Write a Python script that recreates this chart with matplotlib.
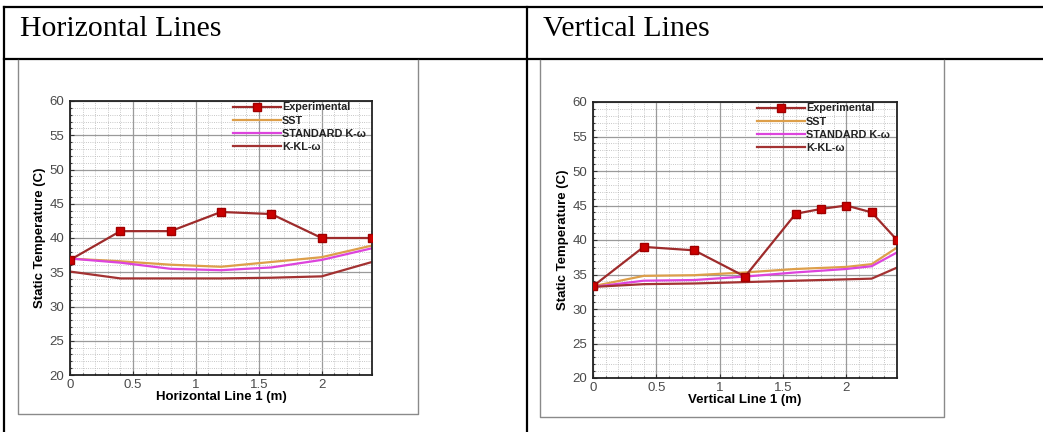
import matplotlib
matplotlib.use('Agg')
import matplotlib.pyplot as plt
from matplotlib.lines import Line2D
from matplotlib.ticker import MultipleLocator

W, H = 1043, 432

# Horizontal line 1 profiles
h_exp_x = [0, 0.4, 0.8, 1.2, 1.6, 2.0, 2.4]
h_exp_y = [36.8, 41.0, 41.0, 43.8, 43.5, 40.0, 40.0]
h_sim_x = [0, 0.4, 0.8, 1.2, 1.6, 2.0, 2.4]
h_sst = [37.0, 36.6, 36.1, 35.8, 36.5, 37.2, 38.9]
h_std = [37.0, 36.4, 35.5, 35.3, 35.7, 36.8, 38.5]
h_kkl = [35.1, 34.1, 34.1, 34.1, 34.2, 34.4, 36.5]

# Vertical line 1 profiles
v_exp_x = [0, 0.4, 0.8, 1.2, 1.6, 1.8, 2.0, 2.2, 2.4]
v_exp_y = [33.3, 39.0, 38.5, 34.7, 43.8, 44.5, 45.0, 44.0, 40.0]
v_sim_x = [0, 0.4, 0.8, 1.2, 1.6, 2.0, 2.2, 2.4]
v_sst = [33.3, 34.8, 34.9, 35.3, 35.8, 36.1, 36.5, 38.9]
v_std = [33.2, 34.1, 34.2, 34.7, 35.3, 35.8, 36.2, 38.2]
v_kkl = [33.2, 33.6, 33.7, 33.9, 34.1, 34.3, 34.4, 36.0]

labels = ['Experimental', 'SST', 'STANDARD K-ω', 'K-KL-ω']
headers = ['Horizontal Lines', 'Vertical Lines']
xlabels = ['Horizontal Line 1 (m)', 'Vertical Line 1 (m)']

EXP_LINE = '#9e2b2b'
EXP_MARK = '#cc0000'
SST_COLOR = '#dd9f4a'
STD_COLOR = '#dd44dd'
KKL_COLOR = '#a33232'
SANS = ['Liberation Sans', 'DejaVu Sans']


def fx(px):
    return px / W


def fy(py):
    return 1 - py / H


def tick_fmt(v, pos):
    return '%g' % v


fig = plt.figure(figsize=(W / 100, H / 100), dpi=100)
fig.patch.set_facecolor('white')

# table rules
for xs, ys in [((4, W), (7, 7)), ((4, W), (59, 59)), ((4, 4), (7, H)), ((527, 527), (7, H))]:
    fig.add_artist(Line2D([fx(x) for x in xs], [fy(y) for y in ys], color='black', lw=1.6))

serif = ['Liberation Serif', 'DejaVu Serif']
fig.text(fx(20), fy(36), headers[0], family=serif, fontsize=21.5, va='baseline')
fig.text(fx(543), fy(36), headers[1], family=serif, fontsize=21.5, va='baseline')

# picture frames inside the cells
for x0, x1, y0, y1 in [(18, 418, 60, 414), (540, 944, 60, 417)]:
    fig.add_artist(Line2D([fx(x0), fx(x0), fx(x1), fx(x1)], [fy(y0), fy(y1), fy(y1), fy(y0)],
                          color='#8a8a8a', lw=1.0))

panels = [
    ((70, 101, 372, 375), h_exp_x, h_exp_y, h_sim_x, h_sst, h_std, h_kkl, xlabels[0]),
    ((593, 102, 897, 378), v_exp_x, v_exp_y, v_sim_x, v_sst, v_std, v_kkl, xlabels[1]),
]

for (l, t, r, b), ex, ey, sx, sst, std, kkl, xl in panels:
    ax = fig.add_axes([fx(l), fy(b), (r - l) / W, (b - t) / H])
    ax.set_xlim(0, 2.4)
    ax.set_ylim(20, 60)
    ax.xaxis.set_major_locator(MultipleLocator(0.5))
    ax.xaxis.set_minor_locator(MultipleLocator(0.1))
    ax.xaxis.set_major_formatter(tick_fmt)
    ax.yaxis.set_major_locator(MultipleLocator(5))
    ax.yaxis.set_minor_locator(MultipleLocator(1))
    ax.grid(which='major', color='#9a9a9a', lw=0.9)
    ax.grid(which='minor', color='#b5b5b5', lw=0.6, ls=':')
    ax.set_axisbelow(True)

    ax.plot(ex, ey, color=EXP_LINE, lw=1.6, marker='s', ms=6,
            mfc=EXP_MARK, mec='#a00000', label=labels[0], zorder=5)
    ax.plot(sx, sst, color=SST_COLOR, lw=1.6, label=labels[1])
    ax.plot(sx, std, color=STD_COLOR, lw=1.6, label=labels[2])
    ax.plot(sx, kkl, color=KKL_COLOR, lw=1.6, label=labels[3])

    for sp in ax.spines.values():
        sp.set_color('#222222')
        sp.set_linewidth(1.3)
    ax.tick_params(which='both', direction='in', length=3, width=0.8, colors='#333333',
                   labelsize=9.5)
    ax.tick_params(axis='y', pad=4)
    ax.tick_params(axis='x', pad=3)
    ax.tick_params(which='minor', length=1.5)
    for lab in ax.get_xticklabels() + ax.get_yticklabels():
        lab.set_family(SANS)
        lab.set_color('#4a4a4a')
    # lift the bottom y label clear of the x origin label
    ax.get_yticklabels()[0].set_va('bottom')

    ax.set_xlabel(xl, family=SANS, fontweight='bold', fontsize=9.5, labelpad=0)
    ax.set_ylabel('Static Temperature (C)', family=SANS, fontweight='bold', fontsize=9.5, labelpad=3)

    leg = ax.legend(loc='upper left', bbox_to_anchor=(0.54, 0.995), frameon=False,
                    borderpad=0, borderaxespad=0, handlelength=4.4, handletextpad=0.1,
                    labelspacing=0.3, prop={'family': SANS, 'weight': 'bold', 'size': 7.8})
    leg.set_zorder(10)
    for txt in leg.get_texts():
        txt.set_color('#222222')

fig.savefig('out.png', dpi=100)
